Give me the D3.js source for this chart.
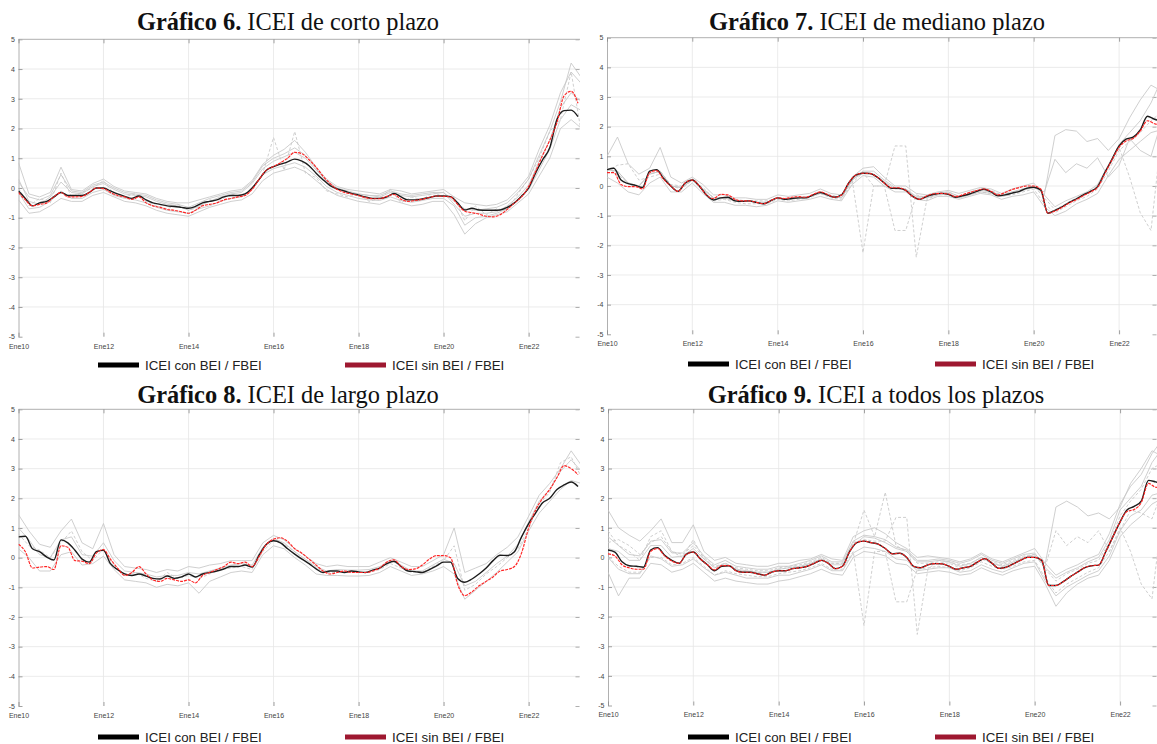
<!DOCTYPE html>
<html>
<head>
<meta charset="utf-8">
<script src="https://cdn.jsdelivr.net/npm/d3@7"></script>
<style>
  body { margin: 0; background: #fff; }
  svg { display: block; }
</style>
</head>
<body>
<svg id="chart" width="1157" height="744"></svg>
<script>
// ---- Dates: main indicators are bimonthly, the individual estimates quarterly ----
const bimonthly = d3.range(80).map(i => new Date(2010, i * 2, 1));
const quarterly = d3.range(54).map(i => new Date(2010, i * 3, 1));
const yearTicks = d3.range(2010, 2023, 2).map(yr => new Date(yr, 0, 1));
const yearTickLabels = ["Ene10", "Ene12", "Ene14", "Ene16", "Ene18", "Ene20", "Ene22"];
const yTickValues = [-5, -4, -3, -2, -1, 0, 1, 2, 3, 4, 5];
const legendLabels = ["ICEI con BEI / FBEI", "ICEI sin BEI / FBEI"];

// ---- Gráfico 6: corto plazo ----
const corto_con = [
  -0.1, -0.35, -0.6, -0.5, -0.45, -0.3,
  -0.15, -0.25, -0.25, -0.25, -0.15, 0.0,
  0.0, -0.1, -0.2, -0.28, -0.35, -0.27,
  -0.4, -0.5, -0.55, -0.6, -0.62, -0.65,
  -0.68, -0.62, -0.5, -0.45, -0.4, -0.3,
  -0.25, -0.25, -0.2, 0.0, 0.3, 0.6,
  0.72, 0.8, 0.88, 0.97, 0.9, 0.75,
  0.5, 0.28, 0.08, -0.03, -0.1, -0.18,
  -0.24, -0.3, -0.35, -0.35, -0.3, -0.18,
  -0.3, -0.4, -0.4, -0.37, -0.32, -0.27,
  -0.27, -0.29, -0.5, -0.74, -0.68, -0.74,
  -0.75, -0.75, -0.74, -0.65, -0.5, -0.27,
  0.0, 0.5, 0.95, 1.35, 2.3, 2.6,
  2.62, 2.4];
const corto_sin = [
  -0.15, -0.4, -0.6, -0.55, -0.5, -0.3,
  -0.15, -0.3, -0.3, -0.28, -0.15, 0.0,
  -0.02, -0.15, -0.25, -0.3, -0.38, -0.3,
  -0.5, -0.6, -0.65, -0.72, -0.75, -0.8,
  -0.85, -0.75, -0.6, -0.55, -0.5, -0.4,
  -0.35, -0.3, -0.25, -0.05, 0.3, 0.6,
  0.72, 0.85, 1.0, 1.2, 1.15, 0.95,
  0.7, 0.4, 0.15, -0.05, -0.15, -0.2,
  -0.26, -0.32, -0.36, -0.36, -0.28, -0.22,
  -0.38, -0.45, -0.42, -0.38, -0.32, -0.27,
  -0.28, -0.3, -0.55, -0.78, -0.83, -0.88,
  -0.95, -0.97, -0.9, -0.72, -0.5, -0.3,
  0.05, 0.55, 1.1, 1.6, 2.2, 3.1,
  3.25, 2.85];
const corto_estimaciones = [
  [0.85, -0.2, -0.3, -0.15, 0.7, -0.05, -0.1, 0.15, 0.3, 0.05, -0.1, -0.15,
   -0.2, -0.35, -0.45, -0.5, -0.5, -0.4, -0.3, -0.2, -0.1, -0.05, 0.25, 0.8,
   1.1, 1.3, 1.6, 1.2, 0.7, 0.3, 0.05, -0.05, -0.1, -0.15, -0.2, -0.05,
   -0.1, -0.2, -0.15, -0.1, -0.05, -0.3, -0.5, -0.55, -0.6, -0.55, -0.4, -0.05,
   0.4, 1.3, 2.1, 3.2, 3.9, 3.5],
  [-0.4, -0.85, -0.8, -0.6, -0.35, -0.45, -0.45, -0.25, -0.15, -0.3, -0.45, -0.5,
   -0.6, -0.75, -0.85, -0.9, -0.95, -0.8, -0.65, -0.55, -0.45, -0.4, -0.2, 0.25,
   0.5, 0.6, 0.7, 0.55, 0.25, -0.05, -0.25, -0.35, -0.45, -0.5, -0.55, -0.4,
   -0.5, -0.6, -0.55, -0.45, -0.45, -0.9, -1.55, -1.2, -1.0, -0.9, -0.8, -0.5,
   -0.2, 0.4, 1.0, 2.0, 2.3, 2.0],
  [0.3, -0.45, -0.55, -0.3, 0.2, -0.15, -0.2, 0.05, 0.15, -0.05, -0.2, -0.25,
   -0.3, -0.45, -0.55, -0.6, -0.75, -0.6, -0.45, -0.3, -0.2, -0.15, 0.15, 0.65,
   0.9, 1.05, 1.2, 1.0, 0.6, 0.25, 0.0, -0.1, -0.2, -0.25, -0.3, -0.15,
   -0.25, -0.3, -0.25, -0.2, -0.15, -0.55, -0.95, -0.85, -0.85, -0.8, -0.6, -0.3,
   0.1, 0.9, 1.6, 2.7, 3.2, 2.9],
  [0.0, -0.6, -0.35, -0.5, 0.5, -0.3, -0.15, 0.0, 0.25, -0.2, -0.3, -0.2,
   -0.45, -0.6, -0.7, -0.55, -0.75, -0.65, -0.4, -0.4, -0.2, -0.3, -0.05, 0.5,
   1.7, 0.6, 1.9, 0.5, 0.35, -0.1, -0.2, -0.3, -0.2, -0.45, -0.35, -0.05,
   -0.5, -0.3, -0.4, -0.15, -0.3, -0.3, -1.1, -0.6, -0.9, -0.7, -0.75, -0.2,
   0.3, 1.0, 1.9, 2.3, 3.9, 1.8],
  [-0.15, -0.7, -0.65, -0.45, -0.1, -0.35, -0.35, -0.15, -0.05, -0.25, -0.35, -0.4,
   -0.5, -0.65, -0.75, -0.8, -0.85, -0.7, -0.6, -0.45, -0.35, -0.3, -0.05, 0.45,
   0.65, 0.75, 0.85, 0.7, 0.4, 0.05, -0.15, -0.25, -0.35, -0.4, -0.42, -0.3,
   -0.42, -0.48, -0.42, -0.35, -0.35, -0.6, -1.25, -1.0, -0.95, -0.85, -0.7, -0.4,
   -0.05, 0.6, 1.3, 2.3, 2.8, 2.6],
  [0.2, -0.3, -0.4, -0.25, 0.45, -0.1, -0.15, 0.1, 0.2, 0.0, -0.15, -0.2,
   -0.25, -0.4, -0.5, -0.55, -0.65, -0.5, -0.35, -0.25, -0.15, -0.1, 0.2, 0.75,
   1.0, 1.15, 1.35, 1.1, 0.65, 0.2, -0.05, -0.15, -0.2, -0.25, -0.25, -0.1,
   -0.2, -0.25, -0.2, -0.15, -0.15, -0.45, -0.7, -0.75, -0.7, -0.65, -0.5, -0.15,
   0.3, 1.1, 1.9, 2.9, 4.2, 3.7]
];

// ---- Gráfico 7: mediano plazo ----
const mediano_con = [
  0.55, 0.6, 0.2, 0.08, 0.02, -0.05,
  0.5, 0.55, 0.25, 0.0, -0.18, 0.1,
  0.2, 0.0, -0.3, -0.47, -0.4, -0.38,
  -0.5, -0.52, -0.5, -0.55, -0.6, -0.5,
  -0.4, -0.45, -0.42, -0.4, -0.4, -0.3,
  -0.22, -0.3, -0.38, -0.3, 0.1, 0.37,
  0.43, 0.42, 0.3, 0.1, -0.08, -0.08,
  -0.15, -0.35, -0.45, -0.35, -0.28, -0.25,
  -0.28, -0.38, -0.33, -0.27, -0.18, -0.11,
  -0.2, -0.33, -0.3, -0.24, -0.18, -0.08,
  -0.04, -0.13, -0.92, -0.82, -0.7, -0.55,
  -0.43, -0.3, -0.18, -0.02, 0.45, 0.9,
  1.35, 1.58, 1.65, 1.89, 2.35, 2.25,
  2.2, 2.2];
const mediano_sin = [
  0.45, 0.45, 0.05, -0.02, -0.02, -0.1,
  0.45, 0.52, 0.22, 0.0, -0.18, 0.1,
  0.2, 0.0, -0.3, -0.42, -0.28, -0.3,
  -0.45, -0.5, -0.5, -0.55, -0.6, -0.5,
  -0.4, -0.42, -0.38, -0.36, -0.38, -0.28,
  -0.2, -0.28, -0.38, -0.3, 0.1, 0.37,
  0.43, 0.42, 0.3, 0.1, -0.06, -0.06,
  -0.15, -0.35, -0.45, -0.33, -0.26, -0.25,
  -0.27, -0.36, -0.3, -0.22, -0.15, -0.1,
  -0.18, -0.3, -0.22, -0.12, -0.05, 0.0,
  0.0, -0.1, -0.92, -0.84, -0.72, -0.57,
  -0.46, -0.33, -0.2, -0.04, 0.42, 0.88,
  1.3, 1.52, 1.6, 1.85, 2.2, 2.1,
  2.05, 2.05];
const mediano_estimaciones = [
  [1.0, 1.65, 0.75, 0.4, 0.6, 1.3, 0.3, 0.1, 0.3, 0.05, -0.3, -0.3,
   -0.4, -0.4, -0.45, -0.45, -0.3, -0.35, -0.3, -0.25, -0.1, -0.25, -0.3, 0.3,
   0.6, 0.65, 0.3, 0.0, 0.0, -0.25, -0.3, -0.2, -0.15, -0.25, -0.15, -0.05,
   -0.1, -0.25, -0.1, 0.0, 0.1, -0.3, -0.7, -0.5, -0.35, -0.2, 0.05, 0.7,
   1.4, 1.8, 2.2, 2.8, 3.6, 3.0],
  [0.3, 0.1, -0.2, -0.3, 0.1, 0.3, -0.2, -0.2, 0.1, -0.25, -0.55, -0.55,
   -0.65, -0.65, -0.7, -0.65, -0.5, -0.55, -0.5, -0.45, -0.35, -0.45, -0.5, 0.05,
   0.35, 0.3, 0.0, -0.2, -0.2, -0.45, -0.5, -0.35, -0.35, -0.45, -0.35, -0.25,
   -0.3, -0.45, -0.35, -0.3, -0.2, -0.7, -1.0, -0.85, -0.6, -0.45, -0.25, 0.35,
   0.9, 1.2, 1.5, 1.8, 1.9, 1.9],
  [0.5, 0.7, 0.75, 0.2, 0.3, 0.4, 0.0, -0.1, 0.2, -0.15, -0.5, -0.45,
   -0.55, -0.6, -0.6, -0.6, -0.45, -0.5, -0.45, -0.4, -0.25, -0.4, -0.45, 0.1,
   0.45, 0.0, 0.0, 1.35, 1.35, -2.4, -0.45, -0.3, -0.3, -0.4, -0.3, -0.2,
   -0.25, -0.35, -0.3, -0.2, -0.1, -0.6, -0.9, -0.7, -0.5, -0.35, -0.1, 0.5,
   1.2, 1.5, 1.8, 2.2, 2.5, 2.4],
  [0.6, 0.4, 0.1, 0.0, 0.4, 0.5, 0.05, 0.0, 0.25, -0.05, -0.4, -0.4,
   -0.45, -0.5, -0.5, -0.5, -0.4, -0.45, -0.4, -0.35, -0.2, -0.3, -0.4, 0.2,
   -2.25, 0.0, 0.0, -1.5, -1.5, -0.3, -0.4, -0.25, -0.2, -0.35, -0.2, -0.1,
   -0.15, -0.3, -0.2, -0.1, 0.0, -0.4, -0.8, -0.6, -0.4, -0.25, 0.0, 0.6,
   1.3, 0.3, -0.9, -1.5, 1.8, 2.6],
  [0.55, 0.5, 0.1, 0.0, 0.4, 0.5, 0.0, -0.05, 0.2, -0.1, -0.4, -0.4,
   -0.5, -0.5, -0.55, -0.55, -0.4, -0.45, -0.4, -0.35, -0.25, -0.35, -0.4, 0.2,
   0.5, 0.5, 0.2, -0.05, -0.1, -0.35, -0.35, -0.25, -0.2, -0.35, -0.25, -0.15,
   -0.2, -0.3, -0.2, -0.1, 0.0, -0.3, 1.7, 1.9, 1.85, 1.5, 1.6, 1.2,
   1.6, 2.3, 2.9, 3.4, 3.2, 3.0],
  [0.55, 0.5, 0.1, 0.0, 0.4, 0.5, 0.0, -0.05, 0.2, -0.1, -0.4, -0.4,
   -0.5, -0.5, -0.55, -0.55, -0.4, -0.45, -0.4, -0.35, -0.25, -0.35, -0.4, 0.2,
   0.45, 0.4, 0.15, -0.1, -0.1, -0.4, -0.4, -0.3, -0.25, -0.4, -0.3, -0.2,
   -0.25, -0.35, -0.25, -0.15, -0.05, -0.2, 0.9, 0.45, 0.75, 0.6, 0.95, 0.3,
   0.7, 1.6, 1.2, 1.0, 2.2, 2.0]
];

// ---- Gráfico 8: largo plazo ----
const largo_con = [
  0.7, 0.72, 0.3, 0.2, 0.02, -0.08,
  0.6, 0.5, 0.25, -0.05, -0.15, 0.2,
  0.25, -0.2, -0.4, -0.55, -0.6, -0.55,
  -0.62, -0.7, -0.72, -0.62, -0.7, -0.65,
  -0.55, -0.65, -0.55, -0.5, -0.45, -0.38,
  -0.3, -0.3, -0.25, -0.32, 0.1, 0.45,
  0.57, 0.5, 0.3, 0.12, -0.05, -0.2,
  -0.38, -0.5, -0.45, -0.45, -0.5, -0.45,
  -0.48, -0.5, -0.42, -0.35, -0.2, -0.12,
  -0.3, -0.45, -0.47, -0.5, -0.4, -0.28,
  -0.15, -0.15, -0.7, -0.83, -0.72, -0.55,
  -0.35, -0.1, 0.08, 0.07, 0.2, 0.7,
  1.15, 1.5, 1.85, 2.0, 2.3, 2.45,
  2.55, 2.4];
const largo_sin = [
  0.45, 0.2, -0.35, -0.32, -0.3, -0.4,
  0.4, 0.35, -0.1, -0.12, -0.2, 0.15,
  0.27, -0.05, -0.35, -0.6, -0.5, -0.3,
  -0.55, -0.75, -0.8, -0.7, -0.75, -0.8,
  -0.75, -0.85, -0.6, -0.5, -0.4, -0.3,
  -0.15, -0.2, -0.15, -0.3, 0.05, 0.45,
  0.62, 0.67, 0.55, 0.3, 0.15, -0.05,
  -0.25, -0.45, -0.55, -0.5, -0.45, -0.5,
  -0.5, -0.5, -0.45, -0.35, -0.15, -0.07,
  -0.3, -0.4, -0.38, -0.25, -0.05, 0.07,
  0.07, 0.0, -0.9, -1.28, -1.15, -0.95,
  -0.8, -0.65, -0.45, -0.4, -0.3, 0.16,
  1.0, 1.6, 2.0, 2.3, 2.7, 3.1,
  3.0, 2.8];
const largo_estimaciones = [
  [1.45, 0.9, 0.45, 0.35, 0.9, 1.3, 0.5, 0.3, 1.15, 0.1, -0.3, -0.35,
   -0.4, -0.5, -0.4, -0.45, -0.3, -0.35, -0.25, -0.2, -0.1, -0.1, -0.1, 0.5,
   0.75, 0.6, 0.3, 0.05, -0.2, -0.3, -0.25, -0.3, -0.3, -0.3, -0.15, 0.0,
   -0.15, -0.3, -0.3, -0.1, 0.1, 1.0, -0.5, -0.35, -0.2, 0.1, 0.35, 0.7,
   1.4, 2.1, 2.5, 3.0, 3.6, 3.1],
  [0.3, 0.0, -0.45, -0.45, 0.1, 0.2, -0.25, -0.2, 0.05, -0.4, -0.75, -0.8,
   -0.85, -1.0, -0.9, -0.95, -0.85, -1.2, -0.8, -0.65, -0.5, -0.45, -0.5, 0.1,
   0.4, 0.3, 0.0, -0.25, -0.55, -0.6, -0.6, -0.62, -0.62, -0.6, -0.5, -0.3,
   -0.45, -0.6, -0.55, -0.45, -0.3, -0.55, -1.4, -1.1, -0.8, -0.5, -0.15, 0.2,
   0.9, 1.5, 1.9, 2.3, 2.6, 2.5],
  [1.0, 0.6, 0.1, 0.0, 0.6, 0.7, 0.1, 0.05, 0.5, -0.1, -0.45, -0.5,
   -0.55, -0.65, -0.6, -0.6, -0.5, -0.55, -0.45, -0.35, -0.25, -0.2, -0.25, 0.35,
   0.65, 0.5, 0.2, -0.05, -0.3, -0.45, -0.4, -0.42, -0.42, -0.4, -0.3, -0.1,
   -0.25, -0.45, -0.45, -0.25, -0.05, -0.2, -0.95, -0.8, -0.5, -0.2, 0.05, 0.45,
   1.2, 1.9, 2.3, 2.9, 3.3, 2.9],
  [0.8, 0.4, 0.25, 0.0, 0.5, 0.9, 0.2, -0.1, 0.3, -0.3, -0.6, -0.5,
   -0.7, -0.8, -0.5, -0.7, -0.6, -0.7, -0.55, -0.4, -0.35, -0.3, -0.4, 0.2,
   0.6, 0.45, 0.2, -0.1, -0.35, -0.5, -0.5, -0.5, -0.5, -0.5, -0.4, -0.2,
   -0.35, -0.5, -0.5, -0.3, -0.1, 0.4, -1.1, -0.9, -0.55, -0.3, 0.0, 0.3,
   1.0, 1.8, 2.2, 3.2, 3.4, 2.7]
];

// ---- Gráfico 9: todos los plazos ----
const todos_con = [
  0.25, 0.18, -0.15, -0.28, -0.3, -0.33,
  0.25, 0.33, 0.07, -0.1, -0.2, 0.1,
  0.18, -0.05, -0.25, -0.45, -0.3, -0.28,
  -0.45, -0.5, -0.5, -0.55, -0.6, -0.5,
  -0.45, -0.45, -0.38, -0.35, -0.3, -0.2,
  -0.1, -0.2, -0.38, -0.3, 0.2, 0.5,
  0.55, 0.5, 0.45, 0.3, 0.12, 0.14,
  0.0, -0.3, -0.35, -0.25, -0.21, -0.22,
  -0.3, -0.4, -0.35, -0.3, -0.15, -0.04,
  -0.2, -0.37, -0.33, -0.22, -0.1, 0.0,
  0.0, -0.1, -0.95, -0.95, -0.82, -0.65,
  -0.5, -0.35, -0.28, -0.26, 0.2, 0.7,
  1.2, 1.6, 1.72, 1.9, 2.6, 2.55,
  2.5, 2.5];
const todos_sin = [
  0.12, 0.05, -0.25, -0.35, -0.4, -0.4,
  0.2, 0.3, 0.05, -0.12, -0.2, 0.1,
  0.18, -0.05, -0.25, -0.42, -0.28, -0.28,
  -0.45, -0.5, -0.5, -0.55, -0.6, -0.5,
  -0.45, -0.45, -0.38, -0.35, -0.3, -0.2,
  -0.1, -0.2, -0.38, -0.3, 0.2, 0.5,
  0.55, 0.5, 0.45, 0.3, 0.12, 0.14,
  0.0, -0.3, -0.35, -0.25, -0.21, -0.22,
  -0.3, -0.4, -0.35, -0.3, -0.15, -0.04,
  -0.2, -0.37, -0.33, -0.22, -0.1, 0.0,
  0.0, -0.1, -0.95, -0.95, -0.82, -0.65,
  -0.5, -0.35, -0.28, -0.26, 0.2, 0.7,
  1.2, 1.55, 1.62, 1.85, 2.5, 2.37,
  2.35, 2.35];
const todos_estimaciones = [
  [1.6, 1.0, 0.75, 0.55, 0.9, 1.3, 0.5, 0.5, 1.1, 0.2, -0.1, 0.0,
   -0.2, -0.25, -0.3, -0.3, -0.2, -0.2, -0.1, -0.05, 0.1, -0.05, -0.1, 0.7,
   0.9, 1.0, 0.8, 0.5, 0.3, 0.0, 0.05, 0.0, -0.05, -0.15, -0.05, 0.15,
   -0.05, -0.15, 0.0, 0.15, 0.3, -0.2, -0.6, -0.4, -0.25, -0.05, 0.1, 0.8,
   1.8, 2.4, 2.8, 3.5, 4.0, 3.6],
  [-0.5, -1.3, -0.7, -0.7, -0.2, -0.25, -0.5, -0.4, -0.2, -0.5, -0.8, -0.7,
   -0.8, -0.85, -0.9, -0.9, -0.8, -0.75, -0.65, -0.55, -0.4, -0.55, -0.6, 0.0,
   0.2, 0.15, 0.05, -0.2, -0.25, -0.55, -0.5, -0.45, -0.5, -0.6, -0.55, -0.35,
   -0.5, -0.6, -0.45, -0.35, -0.3, -0.9, -1.65, -1.2, -0.9, -0.7, -0.6, -0.1,
   0.7, 1.1, 1.4, 1.8, 2.0, 2.1],
  [0.5, 0.6, 0.4, 0.1, 0.5, 0.7, 0.2, 0.1, 0.4, 0.0, -0.3, -0.2,
   -0.35, -0.4, -0.45, -0.45, -0.35, -0.3, -0.25, -0.15, 0.0, -0.2, -0.2, 0.5,
   0.6, 0.55, 0.55, 1.35, 1.35, -2.6, -0.4, -0.1, -0.15, -0.25, -0.2, 0.0,
   -0.15, -0.25, -0.1, 0.05, 0.1, -0.4, -0.8, -0.55, -0.4, -0.2, -0.1, 0.5,
   1.4, 1.9, 2.3, 3.0, 3.2, 3.0],
  [0.0, -0.3, -0.5, -0.5, 0.0, 0.0, -0.25, -0.2, 0.0, -0.3, -0.6, -0.45,
   -0.55, -0.6, -0.65, -0.65, -0.55, -0.5, -0.45, -0.35, -0.2, -0.4, -0.4, 0.2,
   -2.3, 0.2, 0.2, -1.5, -1.5, -0.4, -0.35, -0.3, -0.35, -0.45, -0.35, -0.15,
   -0.3, -0.4, -0.3, -0.15, -0.1, -0.7, -1.2, -0.9, -0.7, -0.5, -0.35, 0.2,
   1.0, 0.2, -0.9, -1.4, 1.6, 2.4],
  [0.3, 0.2, -0.1, -0.1, 0.4, 0.4, 0.0, 0.05, 0.3, -0.05, -0.35, -0.2,
   -0.4, -0.45, -0.5, -0.5, -0.4, -0.35, -0.3, -0.2, -0.05, -0.25, -0.25, 0.4,
   0.7, 0.65, 0.5, 0.3, 0.2, -0.15, -0.15, -0.1, -0.15, -0.3, -0.2, 0.0,
   -0.2, -0.3, -0.15, 0.0, 0.1, -0.2, 1.7, 1.9, 1.7, 1.4, 1.5, 1.3,
   1.7, 2.5, 3.0, 3.6, 3.4, 3.2],
  [0.9, 0.4, 0.2, -0.1, 0.7, 0.9, 0.2, 0.0, 0.6, -0.05, -0.35, -0.25,
   -0.4, -0.5, -0.5, -0.5, -0.4, -0.35, -0.3, -0.2, -0.05, -0.2, -0.2, 0.45,
   1.6, 0.7, 2.2, 0.4, 0.2, -0.2, -0.2, -0.15, -0.2, -0.35, -0.25, -0.05,
   -0.2, -0.3, -0.2, 0.0, 0.05, -0.3, 0.9, 0.4, 0.7, 0.5, 0.9, 0.2,
   0.9, 1.6, 1.5, 1.3, 2.3, 2.1],
  [0.0, -0.4, -0.55, -0.55, 0.05, -0.05, -0.3, -0.25, -0.05, -0.35, -0.6, -0.5,
   -0.6, -0.7, -0.7, -0.7, -0.6, -0.6, -0.5, -0.4, -0.25, -0.45, -0.45, 0.15,
   0.35, 0.3, 0.2, -0.05, -0.1, -0.45, -0.4, -0.35, -0.35, -0.5, -0.45, -0.25,
   -0.4, -0.5, -0.35, -0.2, -0.15, -0.8, -1.3, -1.0, -0.8, -0.6, -0.45, 0.05,
   0.9, 1.4, 1.6, 2.1, 2.2, 2.3],
  [0.7, 0.4, 0.1, 0.05, 0.55, 0.6, 0.15, 0.15, 0.5, 0.05, -0.25, -0.1,
   -0.3, -0.35, -0.4, -0.4, -0.3, -0.3, -0.2, -0.1, 0.05, -0.15, -0.15, 0.55,
   0.75, 0.7, 0.6, 0.35, 0.25, -0.1, -0.1, -0.05, -0.1, -0.2, -0.1, 0.1,
   -0.1, -0.2, -0.05, 0.1, 0.15, -0.35, -0.7, -0.5, -0.35, -0.15, 0.0, 0.6,
   1.6, 2.0, 2.4, 3.2, 3.7, 3.3]
];

// ---- Layout of the four panels ----
const panels = [
  { num: "6", name: "ICEI de corto plazo", con: corto_con, sin: corto_sin, est: corto_estimaciones, dashed: [3],
    left: 18.5, right: 580, ppy: 42.5, top: 39.3, bottom: 336.7, titleX: 288, titleY: 30, legendX: 98, legendY: 365 },
  { num: "7", name: "ICEI de mediano plazo", con: mediano_con, sin: mediano_sin, est: mediano_estimaciones, dashed: [2, 3],
    left: 607, right: 1157, ppy: 42.66, top: 37.7, bottom: 334.3, titleX: 877, titleY: 30, legendX: 688, legendY: 364 },
  { num: "8", name: "ICEI de largo plazo", con: largo_con, sin: largo_sin, est: largo_estimaciones, dashed: [3],
    left: 18.5, right: 580, ppy: 42.5, top: 409.3, bottom: 706, titleX: 288, titleY: 403, legendX: 98, legendY: 737 },
  { num: "9", name: "ICEI a todos los plazos", con: todos_con, sin: todos_sin, est: todos_estimaciones, dashed: [2, 3, 5],
    left: 608, right: 1157, ppy: 42.66, top: 409.3, bottom: 705.5, titleX: 876, titleY: 403, legendX: 688, legendY: 737 }
];

const svg = d3.select("#chart");
const defs = svg.append("defs");
const xDomain = [new Date(2010, 0, 1), new Date(2023, 3, 1)];
const spanYears = 13.25;
const sansFont = "'Liberation Sans', Arial, Helvetica, sans-serif";
const serifFont = "'Liberation Serif', 'Times New Roman', Times, serif";

panels.forEach((p, k) => {
  const x = d3.scaleTime().domain(xDomain).range([p.left, p.left + p.ppy * spanYears]);
  const y = d3.scaleLinear().domain([-5, 5]).range([p.bottom, p.top]);
  const g = svg.append("g").attr("class", "panel-" + p.num);

  defs.append("clipPath").attr("id", "clip" + k)
    .append("rect")
    .attr("x", p.left).attr("y", p.top - 3)
    .attr("width", p.right - p.left).attr("height", p.bottom - p.top + 6);

  // grid
  g.append("g").selectAll("line").data(yTickValues.filter(v => v > -5 && v < 5)).join("line")
    .attr("x1", p.left).attr("x2", p.right)
    .attr("y1", d => y(d)).attr("y2", d => y(d))
    .attr("stroke", "#e6e6e6").attr("stroke-width", 0.8);
  g.append("g").selectAll("line").data(yearTicks.slice(1)).join("line")
    .attr("x1", d => x(d)).attr("x2", d => x(d))
    .attr("y1", p.top).attr("y2", p.bottom)
    .attr("stroke", "#e6e6e6").attr("stroke-width", 0.8);

  // left axis with labels
  const yAxis = d3.axisLeft(y).tickValues(yTickValues).tickFormat(d => String(d))
    .tickSizeInner(-4).tickSizeOuter(0).tickPadding(3.5);
  const ga = g.append("g").attr("transform", `translate(${p.left},0)`).call(yAxis);
  ga.select(".domain").attr("stroke", "#b0b0b0").attr("stroke-width", 1);
  ga.selectAll(".tick line").attr("stroke", "#8a8a8a").attr("stroke-width", 0.8);
  ga.selectAll("text").attr("font-family", sansFont).attr("font-size", 7).attr("fill", "#444");

  // right axis ticks
  const yRight = d3.axisRight(y).tickValues(yTickValues).tickFormat("").tickSizeInner(-4).tickSizeOuter(0);
  const gr = g.append("g").attr("transform", `translate(${p.right - 0.5},0)`).call(yRight);
  gr.select(".domain").remove();
  gr.selectAll(".tick line").attr("stroke", "#9a9a9a").attr("stroke-width", 0.8);

  // top border and ticks
  const xTop = d3.axisTop(x).tickValues(yearTicks).tickFormat("").tickSizeInner(-4).tickSizeOuter(0);
  const gt = g.append("g").attr("transform", `translate(0,${p.top})`).call(xTop);
  gt.select(".domain").attr("d", `M${p.left},0H${p.right}`).attr("stroke", "#b0b0b0").attr("stroke-width", 1);
  gt.selectAll(".tick line").attr("stroke", "#8a8a8a").attr("stroke-width", 0.8);

  // bottom ticks and month labels
  const xBottom = d3.axisBottom(x).tickValues(yearTicks).tickFormat((d, i) => yearTickLabels[i])
    .tickSizeInner(-4).tickSizeOuter(0).tickPadding(7);
  const gb = g.append("g").attr("transform", `translate(0,${p.bottom})`).call(xBottom);
  gb.select(".domain").remove();
  gb.selectAll(".tick line").attr("stroke", "#8a8a8a").attr("stroke-width", 0.8);
  gb.selectAll("text").attr("font-family", sansFont).attr("font-size", 7).attr("fill", "#444");

  // series: individual estimates (thin grey, straight segments), then the two indicators
  const plot = g.append("g").attr("clip-path", `url(#clip${k})`);
  const lineOn = (dates, curve) => d3.line()
    .x((d, i) => x(dates[i])).y(d => y(d))
    .curve(curve);

  p.est.forEach((s, j) => {
    plot.append("path").datum(s)
      .attr("d", lineOn(quarterly, d3.curveLinear))
      .attr("fill", "none")
      .attr("stroke", "#c6c6c6")
      .attr("stroke-width", 0.85)
      .attr("stroke-linejoin", "round")
      .attr("stroke-dasharray", p.dashed.includes(j) ? "3,2" : null);
  });
  plot.append("path").datum(p.con)
    .attr("d", lineOn(bimonthly, d3.curveMonotoneX))
    .attr("fill", "none").attr("stroke", "#1c1c1c").attr("stroke-width", 1.4)
    .attr("stroke-linejoin", "round");
  plot.append("path").datum(p.sin)
    .attr("d", lineOn(bimonthly, d3.curveMonotoneX))
    .attr("fill", "none").attr("stroke", "#ff2424").attr("stroke-width", 1.15)
    .attr("stroke-dasharray", "3,1");

  // title
  const t = svg.append("text")
    .attr("x", p.titleX).attr("y", p.titleY)
    .attr("text-anchor", "middle")
    .attr("font-family", serifFont).attr("font-size", 24.4).attr("fill", "#111");
  t.append("tspan").attr("font-weight", "bold").text(`Gráfico ${p.num}.`);
  t.append("tspan").text(` ${p.name}`);

  // legend
  const legendColors = ["#000000", "#9e1830"];
  legendLabels.forEach((lab, j) => {
    const lx = p.legendX + j * 247;
    svg.append("rect")
      .attr("x", lx).attr("y", p.legendY - 2.5)
      .attr("width", 41).attr("height", 5)
      .attr("fill", legendColors[j]);
    svg.append("text")
      .attr("x", lx + 47).attr("y", p.legendY + 4.7)
      .attr("font-family", sansFont).attr("font-size", 13.3).attr("fill", "#222")
      .text(lab);
  });
});
</script>
</body>
</html>
